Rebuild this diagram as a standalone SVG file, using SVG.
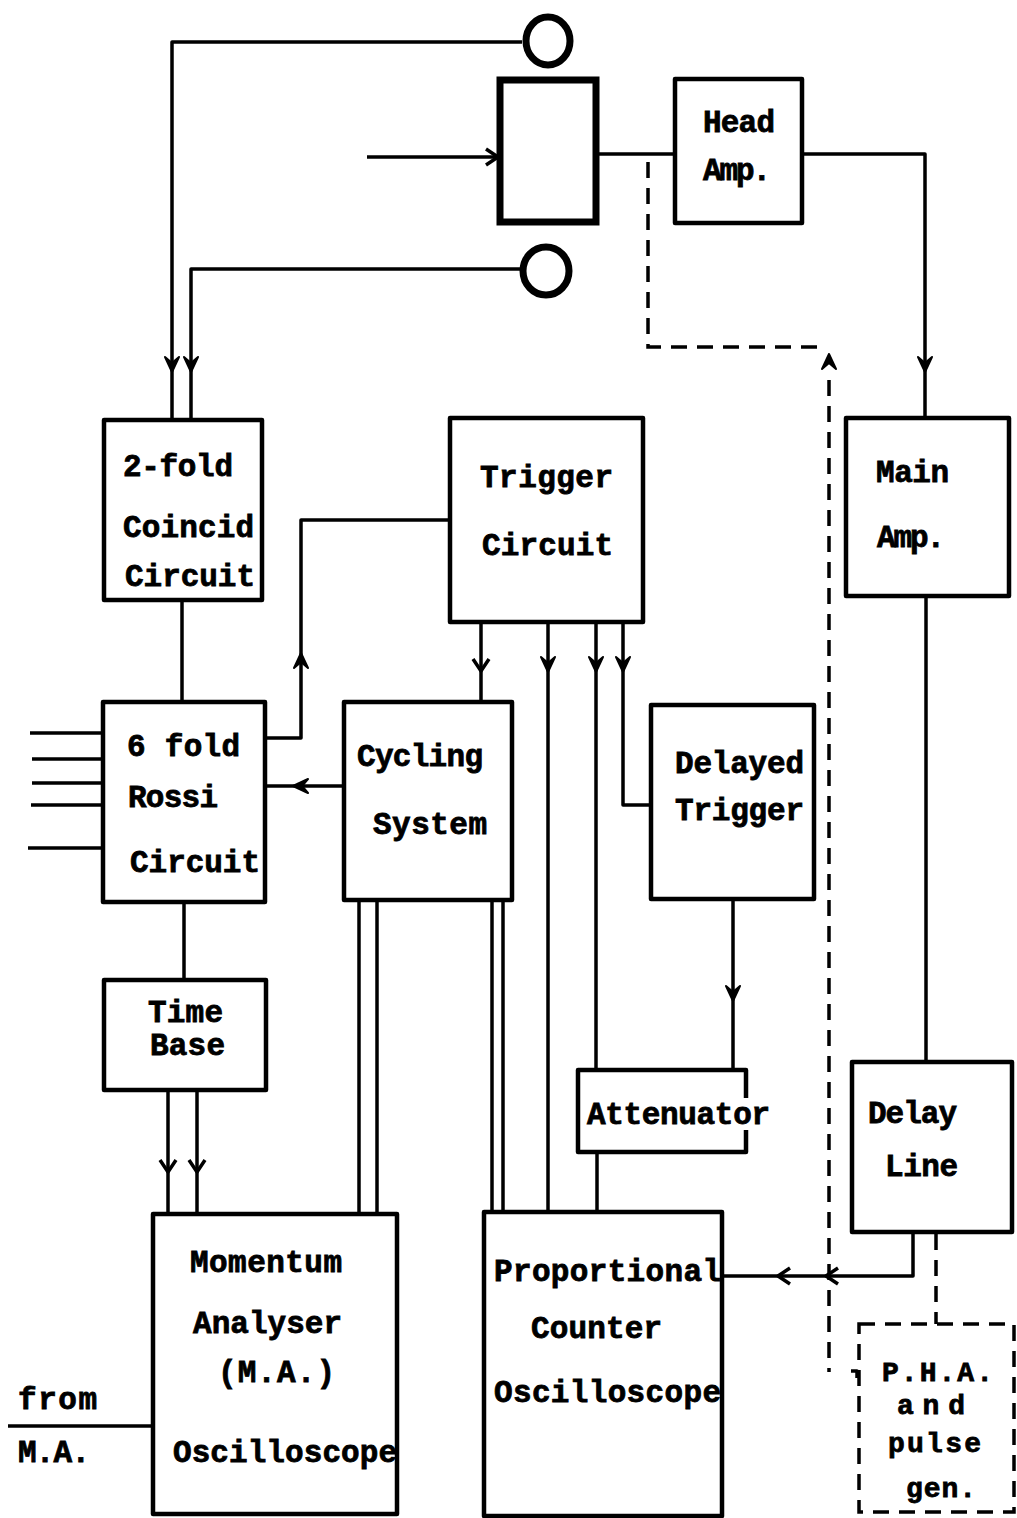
<svg xmlns="http://www.w3.org/2000/svg" xmlns:xlink="http://www.w3.org/1999/xlink" width="1017" height="1518" viewBox="0 0 1017 1518">
<style>
.bx{fill:none;stroke:#000;stroke-width:4.5;stroke-linejoin:round}
.ln{fill:none;stroke:#000;stroke-width:3.5;stroke-linejoin:round}
.ds{fill:none;stroke:#000;stroke-width:3.5;stroke-dasharray:16 10}
.t{font-family:"Liberation Mono","DejaVu Sans Mono",monospace;font-weight:bold;font-size:31px;fill:#000;stroke:#000;stroke-width:0.8}
.s{font-size:28px}
</style>
<defs>
<path id="ah" d="M0,0 L-15,-7 L-9,0 L-15,7 Z" fill="#000" stroke="#000" stroke-width="2" stroke-linejoin="round"/>
<path id="ch" d="M-12,-8 L0,0 L-12,8" fill="none" stroke="#000" stroke-width="3.5" stroke-linejoin="round"/>
</defs>
<rect width="1017" height="1518" fill="#fff"/>

<g id="connectors">
<path class="ln" d="M522,42 H172 V420"/>
<path class="ln" d="M523,269 H191 V420"/>
<path class="ln" d="M367,157 H500"/>
<path class="ln" d="M596,154 H675"/>
<path class="ln" d="M802,154 H925 V418"/>
<path class="ds" d="M648,162 V347 H822"/>
<path class="ds" d="M829,380 V1372"/>
<path class="ln" d="M851,1371 H857 V1378"/>
<path class="ln" d="M182,600 V702"/>
<path class="ln" d="M265,738 H301 V520 H450"/>
<path class="ln" d="M344,786 H265"/>
<path class="ln" d="M481,622 V702"/>
<path class="ln" d="M548,622 V1212"/>
<path class="ln" d="M596,622 V1070"/>
<path class="ln" d="M623,622 V805 H651"/>
<path class="ln" d="M733,899 V1070"/>
<path class="ln" d="M926,596 V1062"/>
<path class="ln" d="M184,902 V980"/>
<path class="ln" d="M168,1090 V1214"/>
<path class="ln" d="M197,1090 V1214"/>
<path class="ln" d="M359,900 V1214"/>
<path class="ln" d="M377,900 V1214"/>
<path class="ln" d="M492,900 V1212"/>
<path class="ln" d="M503,900 V1212"/>
<path class="ln" d="M597,1152 V1212"/>
<path class="ln" d="M913,1232 V1276 H722"/>
<path class="ds" d="M936,1234 V1324"/>
<path class="ln" d="M30,733 H103"/>
<path class="ln" d="M32,759 H103"/>
<path class="ln" d="M32,783 H103"/>
<path class="ln" d="M31,805 H103"/>
<path class="ln" d="M28,848 H103"/>
<path class="ln" d="M8,1426 H153"/>
<use xlink:href="#ah" transform="translate(172,372) rotate(90)"/>
<use xlink:href="#ah" transform="translate(191,372) rotate(90)"/>
<use xlink:href="#ch" transform="translate(498,157)"/>
<use xlink:href="#ah" transform="translate(925,372) rotate(90)"/>
<use xlink:href="#ah" transform="translate(829,354) rotate(-90)"/>
<use xlink:href="#ah" transform="translate(301,653) rotate(-90)"/>
<use xlink:href="#ah" transform="translate(293,786) rotate(180)"/>
<use xlink:href="#ch" transform="translate(481,671) rotate(90)"/>
<use xlink:href="#ah" transform="translate(548,672) rotate(90)"/>
<use xlink:href="#ah" transform="translate(596,672) rotate(90)"/>
<use xlink:href="#ah" transform="translate(623,672) rotate(90)"/>
<use xlink:href="#ah" transform="translate(733,1001) rotate(90)"/>
<use xlink:href="#ch" transform="translate(168,1172) rotate(90)"/>
<use xlink:href="#ch" transform="translate(197,1172) rotate(90)"/>
<use xlink:href="#ch" transform="translate(778,1276) rotate(180)"/>
<use xlink:href="#ch" transform="translate(826,1276) rotate(180)"/>
</g>

<g id="counter-top"><ellipse cx="548" cy="41" rx="22" ry="24" fill="none" stroke="#000" stroke-width="7"/></g>
<g id="counter-bottom"><ellipse cx="546" cy="271" rx="23" ry="24" fill="none" stroke="#000" stroke-width="7"/></g>
<g id="chamber"><rect x="500" y="80" width="96" height="142" fill="none" stroke="#000" stroke-width="7"/></g>
<g id="head-amp"><rect class="bx" x="675" y="79" width="127" height="144"/>
<text class="t" x="703" y="132" textLength="72">Head</text>
<text class="t" x="703" y="180" textLength="68">Amp.</text></g>
<g id="two-fold"><rect class="bx" x="104" y="420" width="158" height="180"/>
<text class="t" x="123" y="476" textLength="110">2-fold</text>
<text class="t" x="123" y="537" textLength="131">Coincid</text>
<text class="t" x="125" y="586" textLength="130">Circuit</text></g>
<g id="trigger"><rect class="bx" x="450" y="418" width="193" height="204"/>
<text class="t" x="480" y="487" textLength="133">Trigger</text>
<text class="t" x="482" y="555" textLength="131">Circuit</text></g>
<g id="main-amp"><rect class="bx" x="846" y="418" width="163" height="178"/>
<text class="t" x="876" y="482" textLength="73">Main</text>
<text class="t" x="877" y="547" textLength="68">Amp.</text></g>
<g id="six-fold"><rect class="bx" x="103" y="702" width="162" height="200"/>
<text class="t" x="127" y="756" textLength="113">6 fold</text>
<text class="t" x="128" y="807" textLength="90">Rossi</text>
<text class="t" x="130" y="872" textLength="130">Circuit</text></g>
<g id="cycling"><rect class="bx" x="344" y="702" width="168" height="198"/>
<text class="t" x="357" y="766" textLength="126">Cycling</text>
<text class="t" x="373" y="834" textLength="114">System</text></g>
<g id="delayed-trigger"><rect class="bx" x="651" y="705" width="163" height="194"/>
<text class="t" x="675" y="773" textLength="129">Delayed</text>
<text class="t" x="675" y="820" textLength="129">Trigger</text></g>
<g id="time-base"><rect class="bx" x="104" y="980" width="162" height="110"/>
<text class="t" x="148" y="1022" textLength="75">Time</text>
<text class="t" x="150" y="1055" textLength="75">Base</text></g>
<g id="attenuator"><path class="bx" d="M746,1098 V1070 H578 V1152 H746 V1130"/>
<text class="t" x="587" y="1124" textLength="183">Attenuator</text></g>
<g id="delay-line"><rect class="bx" x="852" y="1062" width="160" height="170"/>
<text class="t" x="868" y="1123" textLength="89">Delay</text>
<text class="t" x="885" y="1176" textLength="73">Line</text></g>
<g id="momentum"><rect class="bx" x="153" y="1214" width="244" height="300"/>
<text class="t" x="190" y="1272" textLength="152">Momentum</text>
<text class="t" x="193" y="1333" textLength="149">Analyser</text>
<text class="t" x="218" y="1382" textLength="117">(M.A.)</text>
<text class="t" x="173" y="1462" textLength="224">Oscilloscope</text></g>
<g id="from-label">
<text class="t" x="18" y="1409" textLength="79">from</text>
<text class="t" x="18" y="1462" textLength="72">M.A.</text></g>
<g id="proportional"><rect class="bx" x="484" y="1212" width="238" height="304"/>
<text class="t" x="494" y="1281" textLength="227">Proportional</text>
<text class="t" x="531" y="1338" textLength="131">Counter</text>
<text class="t" x="494" y="1402" textLength="227">Oscilloscope</text></g>
<g id="pha"><rect class="ds" x="859" y="1324" width="155" height="188"/>
<text class="t s" x="882" y="1381" textLength="111">P.H.A.</text>
<text class="t s" x="897" y="1414" textLength="68">and</text>
<text class="t s" x="888" y="1452" textLength="93">pulse</text>
<text class="t s" x="906" y="1497" textLength="70">gen.</text></g>
</svg>
